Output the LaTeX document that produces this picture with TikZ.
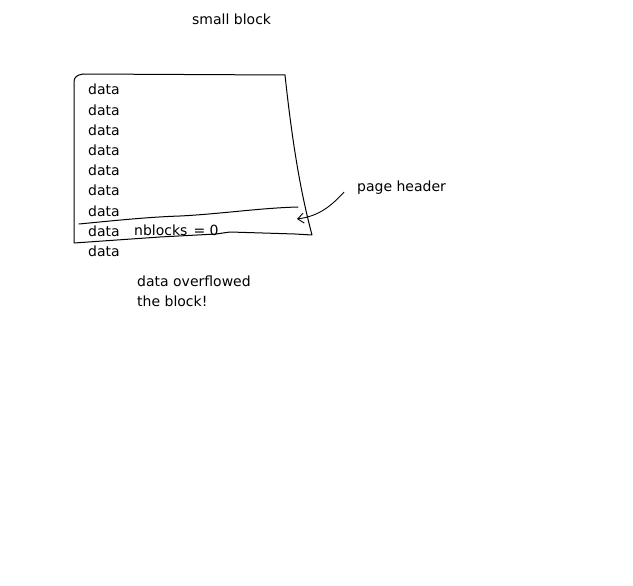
\documentclass[tikz,border=0pt]{standalone}
\usepackage{fontspec}
\setmainfont{DejaVu Sans}
\usetikzlibrary{arrows.meta, positioning}

\begin{document}
\begin{tikzpicture}[
  x=1pt, y=-1pt,
  txt/.style={font=\fontsize{14}{16}\selectfont, inner sep=0pt, anchor=base west},
  sketch/.style={line width=1pt, line join=round, line cap=round},
  arrow/.style={-{Straight Barb[length=6pt, width=10pt]}, line width=0.9pt}
]
  \useasboundingbox (0,0) rectangle (633,586);

  \node[txt] (title) at (192,25) {small block};

  % the block itself, drawn by hand
  \draw[sketch] (74,82) .. controls (74,77) and (77,75) .. (83,74) -- (285,75)
    .. controls (292,140) and (300,190) .. (312,235)
    -- (295,234) -- (230,232) -- (216,234) -- (160,237) -- (74,243) -- cycle;
  % header line
  \draw[sketch] (79,224) .. controls (120,220) and (150,217) .. (180,216)
    .. controls (220,214) and (260,208) .. (298,207);

  \foreach \i in {1,...,9}
    \node[txt] (d\i) at (88,{95+20.2*(\i-1)}) {data};

  \node[txt] (nblk) at (134,236) {nblocks\hspace{6pt}= 0};
  \node[txt] (hdr) at (357,191) {page header};
  \coordinate (tip) at (297,219);
  \draw[arrow] ([xshift=-13pt, yshift=2pt]hdr.south west)
    .. controls (332,205) and (320,216) .. (tip);

  \node[txt] (over1) at (137,286) {data overflowed};
  \node[txt] (over2) at (137,306) {the block!};
\end{tikzpicture}
\end{document}
